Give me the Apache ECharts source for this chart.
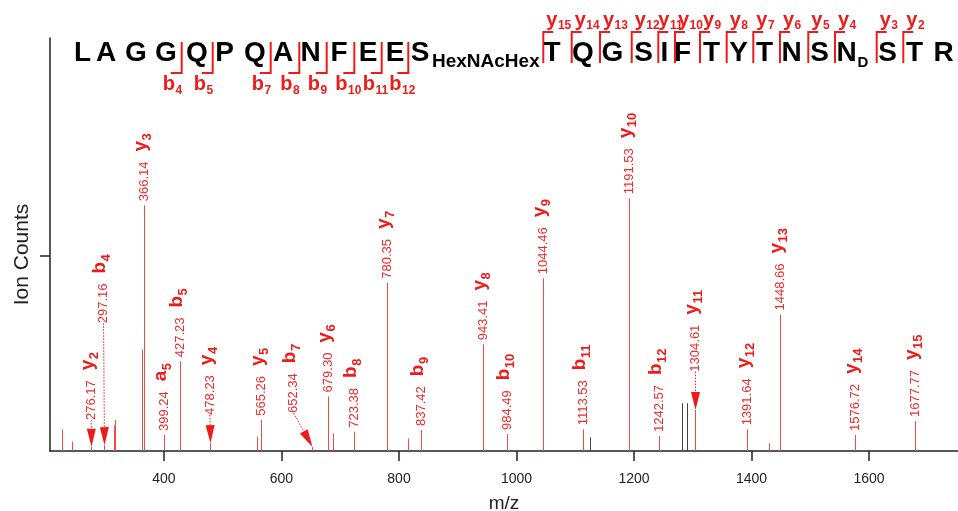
<!DOCTYPE html>
<html><head><meta charset="utf-8">
<script src="https://cdn.jsdelivr.net/npm/echarts@6/dist/echarts.min.js"></script>
<style>html,body{margin:0;padding:0;background:#fff}#chart{width:958px;height:511px}</style>
</head><body><div id="chart"></div>
<script>
// ---------------- data ----------------
const ionNames = ['y2','b4','y3','a5','b5','y4','y5','b7','y6','b8','y7','b9','y8','b10','y9','b11','y10','b12','y11','y12','y13','y14','y15'];
const ionMz = [276.17,297.16,366.14,399.24,427.23,478.23,565.26,652.34,679.30,723.38,780.35,837.42,943.41,984.49,1044.46,1113.53,1191.53,1242.57,1304.61,1391.64,1448.66,1576.72,1677.77];
const ionIntensity = [0.022,0.03,1.26,0.082,0.46,0.04,0.16,0.02,0.28,0.099,0.863,0.108,0.547,0.087,0.886,0.111,1.296,0.077,0.21,0.111,0.70,0.082,0.154];
const otherMz = [226.4,243.4,314.2,316.5,362.5,558.8,687.0,815.9,1430.3];
const otherIntensity = [0.111,0.048,0.13,0.159,0.52,0.073,0.09,0.065,0.04];
const unmatchedMz = [1125.0,1281.7,1290.2];
const unmatchedIntensity = [0.07,0.245,0.245];
const mzTicks = [400,600,800,1000,1200,1400,1600];
const intensityTicks = [1];
const residues = ['L','A','G','G','Q','P','Q','A','N','F','E','E','S','T','Q','G','S','I','F','T','Y','T','N','S','N','S','T','R'];
const glycanText = 'HexNAcHex';
const deamidText = 'D';
const bIons = [4,5,7,8,9,10,11,12];
const yIons = [15,14,13,12,11,10,9,8,7,6,5,4,3,2];

// ---------------- layout / style ----------------
const FF = '"Liberation Sans", Arial, Helvetica, sans-serif';
const LABEL_RED = '#ee1b1b', VALUE_RED = '#f02a2a', LINE_RED = '#f24b4b';
const VALUE_FONT = '13px ' + FF, ION_FONT = 'bold 19px ' + FF, SUB_FONT = 'bold 13px ' + FF;
// arrowed annotations: label level (intensity units) and m/z shift of the label
const arrowed = {y2:{level:0.159,dmz:0}, b4:{level:0.655,dmz:0}, y4:{level:0.185,dmz:0}, b7:{level:0.195,dmz:-31.8}, y11:{level:0.407,dmz:0}};
const residueX = [82.5,106,136,166,197,224.5,255,283,310.5,339,368,395,420,552,583,612.5,643.5,664.5,682.5,711.5,738.5,764.5,791.5,819.5,846.5,887.5,914.5,943.5];
const bBracketX = {4:181.7,5:212.7,7:270.7,8:299.3,9:326.7,10:354.3,11:381.7,12:408.3};
const yBracketX = {15:543.3,14:571.7,13:600,12:631.7,11:658.3,10:675,9:700,8:726.7,7:753.3,6:780,5:808.3,4:835,3:876.7,2:903.3};
const yLabelDx = {11:0};

const mctx = document.createElement('canvas').getContext('2d');
function tw(t, f){ mctx.font = f; return mctx.measureText(t).width; }
function crisp(v){ return Math.round(v) + 0.5; }

function renderIon(params, api){
  const i = params.dataIndex;
  const mz = api.value(0), h = api.value(1);
  const base = api.coord([mz,0]), top = api.coord([mz,h]);
  const x = crisp(top[0]);
  const kids = [{type:'line', shape:{x1:x,y1:base[1],x2:x,y2:top[1]}, style:{stroke:LINE_RED,lineWidth:1}}];
  const name = ionNames[i];
  const arr = arrowed[name];
  let ax, ay;
  if (arr){
    const p = api.coord([mz + arr.dmz, arr.level]);
    ax = p[0]; ay = p[1];
    const tip = [x, top[1]];
    const dx = tip[0]-ax, dy = tip[1]-ay, len = Math.hypot(dx,dy);
    const ux = dx/len, uy = dy/len, aLen = 18, aW = 4.5;
    const bx = tip[0]-ux*aLen, by = tip[1]-uy*aLen;
    kids.push({type:'line', shape:{x1:ax,y1:ay,x2:bx,y2:by}, style:{stroke:LABEL_RED,lineWidth:1,lineDash:[1.5,1.5]}});
    kids.push({type:'polygon', shape:{points:[[tip[0],tip[1]],[bx-uy*aW,by+ux*aW],[bx+uy*aW,by-ux*aW]]}, style:{fill:LABEL_RED}});
  } else {
    ax = x; ay = top[1] - 4;
  }
  const vt = mz.toFixed(2);
  const vw = tw(vt, VALUE_FONT);
  kids.push({type:'text', x:ax, y:ay, rotation:Math.PI/2, style:{text:vt, font:VALUE_FONT, fill:VALUE_RED, align:'left', verticalAlign:'middle'}});
  const main = name[0], sub = name.slice(1);
  const mw = tw(main, ION_FONT);
  kids.push({type:'group', x:ax, y:ay - vw - 10, rotation:Math.PI/2, children:[
    {type:'text', x:0, y:-3.5, style:{text:main, font:ION_FONT, fill:LABEL_RED, align:'left', verticalAlign:'middle'}},
    {type:'text', x:mw+0.5, y:3, style:{text:sub, font:SUB_FONT, fill:LABEL_RED, align:'left', verticalAlign:'middle'}}
  ]});
  return {type:'group', children:kids};
}
function stickRenderer(color){
  return function(params, api){
    const base = api.coord([api.value(0),0]), top = api.coord([api.value(0),api.value(1)]);
    const x = crisp(top[0]);
    return {type:'line', shape:{x1:x,y1:base[1],x2:x,y2:top[1]}, style:{stroke:color,lineWidth:1}};
  };
}

// ---------------- sequence annotation ----------------
const graphics = [];
const SEQ_FONT = 'bold 28px ' + FF;
residues.forEach((r,k)=>{
  graphics.push({type:'text', x:residueX[k], y:53, style:{text:r, font:SEQ_FONT, fill:'#000', align:'center', verticalAlign:'middle'}});
});
graphics.push({type:'text', x:432, y:61.5, style:{text:glycanText, font:'bold 19px '+FF, fill:'#000', align:'left', verticalAlign:'middle'}});
graphics.push({type:'text', x:863, y:63, style:{text:deamidText, font:'bold 15px '+FF, fill:'#000', align:'center', verticalAlign:'middle'}});
const LBL_FONT = 'bold 20px ' + FF, LBL_SUB = 'bold 12px ' + FF;
bIons.forEach(n=>{
  const bx = bBracketX[n];
  graphics.push({type:'polyline', shape:{points:[[bx,42],[bx,73],[bx-11,73]]}, style:{stroke:LABEL_RED,lineWidth:2,fill:null}});
  const lx = bx - 19, w = tw('b', LBL_FONT);
  graphics.push({type:'text', x:lx, y:84, style:{text:'b', font:LBL_FONT, fill:LABEL_RED, align:'left', verticalAlign:'middle'}});
  graphics.push({type:'text', x:lx+w+0.5, y:90.5, style:{text:String(n), font:LBL_SUB, fill:LABEL_RED, align:'left', verticalAlign:'middle'}});
});
yIons.forEach(n=>{
  const yx = yBracketX[n];
  graphics.push({type:'polyline', shape:{points:[[yx,63],[yx,32],[yx+10,32]]}, style:{stroke:LABEL_RED,lineWidth:2,fill:null}});
  const lx = yx + (yLabelDx[n] !== undefined ? yLabelDx[n] : 3), w = tw('y', LBL_FONT);
  graphics.push({type:'text', x:lx, y:20, style:{text:'y', font:LBL_FONT, fill:LABEL_RED, align:'left', verticalAlign:'middle'}});
  graphics.push({type:'text', x:lx+w+0.5, y:26, style:{text:String(n), font:LBL_SUB, fill:LABEL_RED, align:'left', verticalAlign:'middle'}});
});

// ---------------- chart ----------------
const chart = echarts.init(document.getElementById('chart'), null, {renderer:'canvas'});
chart.setOption({
  animation:false,
  backgroundColor:'#fff',
  textStyle:{fontFamily:FF},
  grid:{left:50, right:0, top:38, bottom:60, containLabel:false, outerBoundsMode:'none'},
  xAxis:{type:'value', min:206, max:1751.5,
    axisLine:{show:true, onZero:false, lineStyle:{color:'#222', width:1.5}},
    axisTick:{show:true, customValues:mzTicks, length:10, lineStyle:{color:'#222', width:1.5}},
    axisLabel:{customValues:mzTicks, fontSize:14, color:'#222', margin:21, fontFamily:FF, formatter:(v)=>String(v)},
    splitLine:{show:false},
    name:'m/z', nameLocation:'middle', nameGap:43, nameTextStyle:{fontSize:19, color:'#222', fontFamily:FF}},
  yAxis:{type:'value', min:0, max:2.118,
    axisLine:{show:true, lineStyle:{color:'#222', width:1.5}},
    axisTick:{show:true, customValues:intensityTicks, length:10, lineStyle:{color:'#222', width:1.5}},
    axisLabel:{show:false},
    splitLine:{show:false},
    name:'Ion Counts', nameLocation:'middle', nameGap:17, nameTextStyle:{fontSize:21, color:'#222', fontFamily:FF, padding:[0,20,0,0]}},
  series:[
    {type:'custom', silent:true, clip:false, renderItem:stickRenderer(LINE_RED), encode:{x:0,y:1},
      data: otherMz.map((m,i)=>[m, otherIntensity[i]])},
    {type:'custom', silent:true, clip:false, renderItem:stickRenderer('#444'), encode:{x:0,y:1},
      data: unmatchedMz.map((m,i)=>[m, unmatchedIntensity[i]])},
    {type:'custom', silent:true, clip:false, renderItem:renderIon, encode:{x:0,y:1},
      data: ionMz.map((m,i)=>[m, ionIntensity[i]])}
  ],
  graphic: graphics
});
</script></body></html>
